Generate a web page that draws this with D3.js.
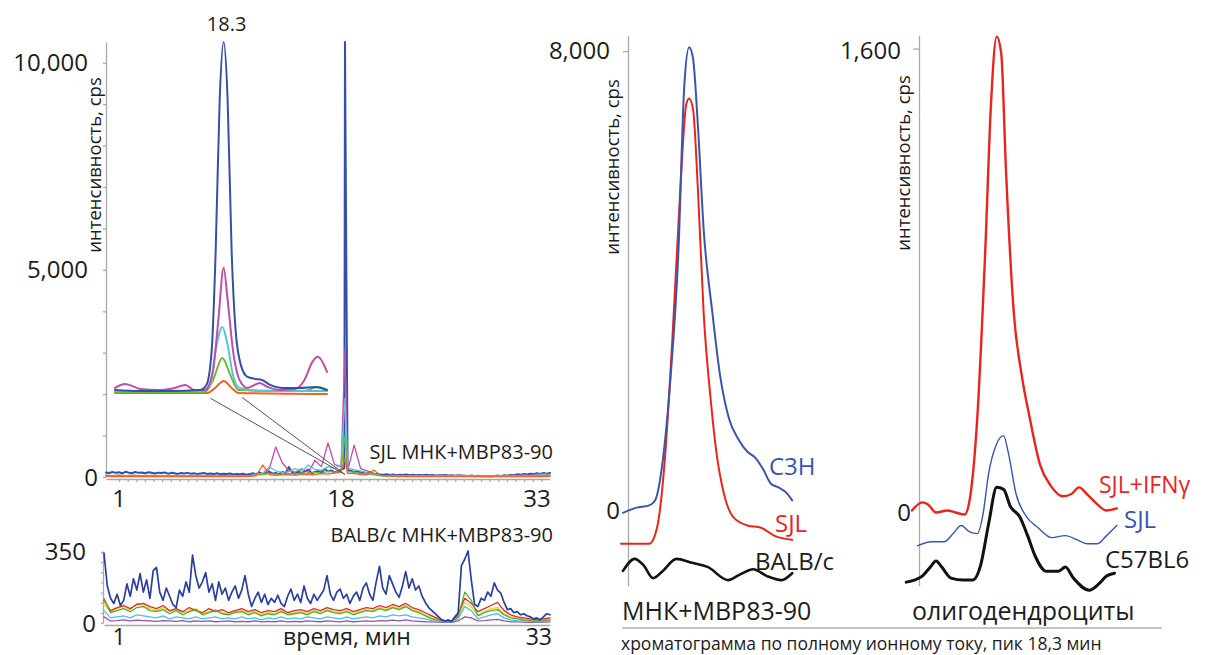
<!DOCTYPE html>
<html lang="ru">
<head>
<meta charset="UTF-8">
<title>Хроматограммы МНК+MBP83-90</title>
<style>
    body { margin: 0; background: #fff; }
    svg { display: block; font-family: "Open Sans", "Noto Sans", sans-serif; }
    .axis path, .axis line { stroke: #a9a9a9; stroke-width: 1.3; }
    .trace { fill: none; stroke-linejoin: round; stroke-linecap: round; }
</style>
</head>
<body>
<svg id="chart" width="1206" height="655"></svg>
<script src="https://d3js.org/d3.v7.min.js"></script>
<script>
// ---------- data ----------
// SJL МНК+MBP83-90, full run 0..34 min
const topYTicks = [0, 5000, 10000];
const topXTicks = [1, 18, 33];
const spikeTime = 18.3;
const spikeTops = [10500, 3070, 1900, 1000, 450]; // blue, magenta, cyan, green, orange

// blue, one value every 0.25 min
const topBlue = [
    110, 95, 120, 100, 115, 90, 125, 105, 95, 120, 100, 110, 90, 115, 100, 85,
    105, 95, 110, 80, 100, 90, 75, 95, 85, 100, 80, 90, 70, 85, 95, 75,
    85, 70, 90, 65, 80, 70, 85, 60, 75, 65, 80, 55, 70, 90, 60, 110,
    70, 95, 130, 80, 100, 70, 120, 90, 240, 110, 80, 130, 95, 140, 180, 90,
    120, 150, 100, 200, 130, 160, 110, 140, 180, 210, 170, 150, 120, 140, 100, 110,
    90, 120, 80, 70, 60, 55, 65, 50, 60, 45, 55, 50, 60, 45, 55, 40,
    50, 45, 55, 40, 50, 35, 45, 40, 50, 35, 45, 30, 40, 35, 30, 25,
    35, 20, 30, 15, 25, 20, 15, 25, 35, 20, 40, 30, 50, 40, 65, 55,
    75, 60, 80, 70, 90, 75, 95, 80, 100
];
// the other traces, one value every 0.5 min
const topMagenta = [
    40, 30, 45, 35, 40, 30, 35, 40, 30, 35, 25, 30, 35, 25, 30, 20,
    30, 25, 20, 30, 25, 40, 30, 90, 60, 200, 725, 340, 150, 120, 200, 110,
    400, 250, 820, 300, 250, 150, 770, 200, 150, 80, 40, 30, 35, 25, 30, 20,
    30, 25, 20, 30, 25, 20, 25, 30, 20, 25, 15, 20, 30, 25, 40, 35,
    50, 45, 70, 85, 60
];
const topCyan = [
    45, 35, 40, 30, 45, 35, 40, 30, 40, 35, 30, 40, 35, 30, 40, 30,
    35, 30, 35, 25, 30, 35, 40, 60, 90, 240, 150, 110, 130, 200, 140, 290,
    180, 160, 250, 200, 300, 220, 180, 150, 100, 70, 40, 35, 40, 30, 35, 30,
    35, 25, 30, 35, 30, 25, 30, 25, 30, 20, 25, 20, 30, 25, 35, 30,
    40, 35, 50, 45, 50
];
const topGreen = [
    30, 25, 30, 20, 25, 30, 20, 25, 20, 25, 30, 20, 25, 20, 25, 20,
    25, 20, 25, 20, 20, 25, 30, 45, 60, 80, 70, 55, 90, 70, 100, 80,
    120, 90, 140, 110, 150, 130, 120, 90, 70, 50, 30, 25, 30, 20, 25, 20,
    25, 20, 25, 20, 20, 25, 20, 15, 20, 15, 20, 15, 20, 15, 25, 20,
    25, 20, 30, 25, 30
];
const topOrange = [
    15, 10, 15, 10, 15, 10, 15, 10, 12, 10, 15, 10, 12, 8, 10, 12,
    10, 8, 12, 10, 10, 12, 15, 30, 290, 60, 40, 50, 60, 40, 70, 50,
    60, 80, 70, 100, 120, 90, 80, 60, 50, 170, 40, 20, 15, 10, 12, 10,
    12, 10, 12, 8, 10, 8, 10, 8, 10, 8, 10, 8, 10, 8, 12, 10,
    12, 10, 15, 12, 15
];

// zoomed peak inset, [time, cps]
const insetBlue = [[17.48, 2100], [17.67, 2077], [17.9, 2077], [18.12, 2100], [18.17, 2222],
    [18.21, 3070], [18.24, 5480], [18.27, 9100], [18.3, 10500], [18.33, 9100], [18.36, 5480],
    [18.39, 3550], [18.43, 2700], [18.48, 2415], [18.54, 2367], [18.59, 2343], [18.65, 2222],
    [18.74, 2150], [18.88, 2150], [18.99, 2174], [19.08, 2100]];
const insetMagenta = [[17.48, 2150], [17.555, 2246], [17.67, 2126], [17.82, 2100], [17.93, 2150],
    [18.01, 2222], [18.08, 2100], [18.16, 2100], [18.22, 2585], [18.26, 3790], [18.3, 5050],
    [18.33, 4275], [18.37, 3070], [18.42, 2343], [18.48, 2150], [18.52, 2198], [18.57, 2270],
    [18.63, 2174], [18.72, 2100], [18.84, 2126], [18.91, 2343], [18.97, 2778], [19.01, 2900],
    [19.05, 2754], [19.08, 2536]];
const insetCyan = [[17.48, 2077], [18.12, 2077], [18.2, 2222], [18.24, 3070], [18.29, 3620],
    [18.33, 3190], [18.37, 2464], [18.42, 2150], [18.57, 2077], [19.08, 2077]];
const insetGreen = [[17.48, 2053], [18.16, 2053], [18.22, 2343], [18.29, 2874], [18.35, 2464],
    [18.41, 2100], [18.91, 2077], [19.01, 2174], [19.08, 2100]];
const insetOrange = [[17.48, 2029], [18.18, 2029], [18.235, 2150], [18.3, 2319], [18.36, 2150],
    [18.41, 2029], [19.08, 2005]];
const insetLinks = [[18.2, 1900], [18.44, 1920]];

// BALB/c МНК+MBP83-90, 0..34 min
const bottomYTicks = [0, 350];
const bottomXTicks = [1, 33];
const bottomBlue = [
    340, 180, 120, 95, 140, 85, 110, 190, 130, 215, 160, 240, 150, 210, 120, 255,
    270, 150, 110, 170, 130, 90, 75, 160, 130, 200, 150, 330, 230, 170, 200, 245,
    150, 190, 110, 200, 140, 170, 110, 150, 180, 120, 160, 230, 140, 80, 120, 150,
    100, 140, 90, 120, 100, 135, 95, 80, 130, 165, 110, 140, 100, 180, 120, 95,
    140, 110, 135, 160, 230, 140, 110, 150, 165, 120, 140, 95, 130, 150, 110, 170,
    195, 140, 110, 200, 275, 170, 140, 230, 190, 150, 125, 180, 250, 170, 215, 160,
    180, 130, 100, 75, 60, 45, 30, 15, 10, 15, 8, 30, 50, 280, 310, 350,
    210, 90, 80, 120, 110, 150, 130, 195, 160, 145, 100, 65, 70, 50, 55, 40,
    45, 35, 30, 20, 25, 15, 30, 45, 40
];
const bottomRed = [
    110, 60, 75, 85, 70, 90, 95, 80, 70, 85, 60, 70, 55, 75, 60, 50,
    70, 55, 65, 50, 60, 70, 55, 65, 50, 60, 55, 70, 50, 60, 65, 55,
    70, 60, 75, 65, 60, 70, 55, 65, 75, 70, 85, 75, 90, 80, 95, 75,
    65, 50, 35, 20, 12, 10, 40, 120, 95, 55, 70, 85, 100, 60, 40, 30,
    25, 20, 15, 20, 25
];
const bottomYellow = [
    90, 55, 70, 80, 65, 95, 85, 70, 60, 75, 55, 65, 50, 60, 70, 45,
    55, 65, 50, 45, 55, 60, 45, 55, 40, 50, 45, 60, 45, 50, 55, 45,
    60, 50, 65, 55, 50, 60, 45, 55, 65, 60, 75, 65, 80, 70, 85, 65,
    55, 40, 25, 15, 10, 8, 30, 100, 80, 40, 55, 70, 75, 45, 30, 25,
    20, 15, 12, 15, 20
];
const bottomGreen = [
    120, 50, 60, 70, 55, 75, 80, 60, 55, 65, 45, 60, 40, 55, 65, 40,
    50, 60, 45, 40, 50, 55, 40, 50, 35, 45, 40, 55, 40, 45, 50, 40,
    55, 45, 60, 50, 45, 55, 40, 50, 60, 55, 70, 60, 75, 65, 80, 60,
    50, 35, 20, 12, 8, 6, 30, 150, 110, 35, 50, 60, 65, 40, 25, 20,
    15, 12, 10, 12, 15
];
const bottomCyan = [
    60, 25, 30, 35, 25, 40, 35, 30, 25, 35, 20, 30, 25, 20, 30, 20,
    25, 30, 20, 25, 20, 30, 20, 25, 15, 25, 20, 30, 20, 25, 20, 30,
    25, 20, 30, 25, 20, 30, 20, 25, 30, 25, 35, 30, 40, 35, 40, 30,
    25, 20, 12, 8, 5, 5, 20, 80, 60, 20, 30, 40, 45, 25, 15, 12,
    10, 8, 6, 8, 10
];
const bottomPurple = [
    30, 10, 12, 15, 10, 14, 12, 10, 8, 12, 10, 8, 12, 6, 10, 8,
    10, 6, 8, 10, 6, 8, 6, 10, 5, 8, 6, 10, 5, 8, 6, 10,
    8, 6, 10, 8, 5, 10, 6, 8, 10, 8, 12, 10, 14, 10, 15, 10,
    8, 6, 5, 4, 3, 3, 10, 30, 25, 10, 12, 15, 18, 10, 6, 5,
    4, 3, 3, 4, 5
];

// TIC peak 18.3 min, МНК+MBP83-90, [time, cps]
const mncYTicks = [0, 8000];
const mncC3H = [[17.6, -40], [17.74, 50], [17.87, 90], [17.93, 175], [18.01, 880], [18.09, 2330],
    [18.17, 4500], [18.23, 7370], [18.28, 8050], [18.32, 7860], [18.37, 6700], [18.43, 4880],
    [18.52, 3430], [18.6, 2330], [18.69, 1600], [18.79, 1230], [18.88, 1020], [18.96, 920],
    [19.04, 720], [19.12, 470], [19.2, 400], [19.28, 310], [19.34, 175]];
const mncSJL = [[17.58, -580], [17.87, -580], [17.95, -300], [18.03, 880], [18.11, 3050],
    [18.19, 5600], [18.25, 7050], [18.28, 7160], [18.32, 6980], [18.37, 5600], [18.43, 3420],
    [18.5, 1960], [18.56, 1020], [18.64, 280], [18.73, -105], [18.88, -260], [19.02, -300],
    [19.16, -440], [19.34, -510]];
const mncBALB = [[17.6, -1050], [17.72, -840], [17.81, -950], [17.91, -1175], [18.01, -1050],
    [18.15, -840], [18.31, -910], [18.47, -980], [18.68, -1210], [18.81, -1105], [18.94, -1020],
    [19.08, -1140], [19.23, -1210], [19.34, -1090]];

// TIC peak 18.3 min, олигодендроциты
const oligoYTicks = [0, 1600];
const oligoIFN = [[17.6, 7], [17.69, 35], [17.74, 28], [17.81, 0], [17.91, 7], [17.98, 0],
    [18.06, -7], [18.1, 35], [18.17, 325], [18.24, 905], [18.29, 1412], [18.34, 1647],
    [18.38, 1587], [18.42, 1196], [18.49, 689], [18.56, 472], [18.63, 325], [18.72, 164],
    [18.81, 94], [18.92, 56], [18.99, 63], [19.06, 87], [19.13, 63], [19.22, 28], [19.3, 7],
    [19.39, 14]];
const oligoSJL = [[17.65, -115], [17.77, -101], [17.88, -101], [17.96, -73], [18.03, -45],
    [18.1, -66], [18.17, -73], [18.22, -7], [18.27, 136], [18.34, 238], [18.4, 266], [18.44, 210],
    [18.51, 63], [18.6, -14], [18.7, -52], [18.82, -87], [18.94, -80], [19.04, -94], [19.13, -108],
    [19.22, -108], [19.3, -80], [19.39, -45]];
const oligoC57 = [[17.55, -241], [17.62, -234], [17.69, -220], [17.76, -189], [17.81, -168],
    [17.86, -189], [17.94, -227], [18.05, -234], [18.13, -234], [18.2, -182], [18.27, -38],
    [18.34, 87], [18.4, 80], [18.46, 21], [18.54, -14], [18.61, -80], [18.68, -154], [18.77, -203],
    [18.88, -203], [18.94, -189], [19.01, -227], [19.15, -269], [19.23, -248], [19.3, -220],
    [19.37, -210]];

// ---------- drawing ----------
const ink = "#1c1c1c";
const svg = d3.select("#chart");
svg.append("rect").attr("width", 1206).attr("height", 655).attr("fill", "#fff");

const fmt = d3.format(",");
const onGrid = (values, step) => values.map((v, i) => [i * step, v]);
const withSpike = (pts, top) => pts.concat([[spikeTime, top]]).sort((a, b) => a[0] - b[0]);

function trace(x, y, pts, color, width, curve) {
    svg.append("path")
        .attr("class", "trace")
        .attr("d", d3.line().x(d => x(d[0])).y(d => y(d[1])).curve(curve || d3.curveLinear)(pts))
        .attr("stroke", color)
        .attr("stroke-width", width);
}

function yTickLabels(values, x, y, size) {
    svg.append("g").selectAll("text").data(values).join("text")
        .attr("x", d => x - (d === 0 ? 8 : 18))
        .attr("y", d => y(d))
        .attr("dy", "0.36em")
        .attr("text-anchor", "end")
        .attr("font-size", size)
        .attr("fill", ink)
        .text(d => fmt(d));
}

function yTitle(x, y) {
    svg.append("text")
        .attr("transform", `translate(${x},${y}) rotate(-90)`)
        .attr("text-anchor", "middle")
        .attr("font-size", 18.5)
        .attr("fill", ink)
        .text("интенсивность, cps");
}

function label(x, y, text, size, color, anchor) {
    svg.append("text")
        .attr("x", x).attr("y", y).attr("dy", "0.36em")
        .attr("text-anchor", anchor || "start")
        .attr("font-size", size)
        .attr("fill", color || ink)
        .text(text);
}

// ---- panel 1: SJL full chromatogram ----
const xTop = d3.scaleLinear().domain([0, 34]).range([106, 550]);
const yTop = d3.scaleLinear().domain([0, 10500]).range([477, 42]);
const xInset = d3.scaleLinear().domain([17.48, 19.08]).range([115, 327]);

svg.append("g").attr("class", "axis")
    .attr("transform", `translate(${xTop(0)},0)`)
    .call(d3.axisLeft(yTop).tickValues(d3.range(0, 10001, 1000)).tickSize(3).tickSizeOuter(0).tickFormat(""));
svg.append("g").attr("class", "axis")
    .attr("transform", `translate(0,${yTop(0) + 2})`)
    .call(d3.axisBottom(xTop).tickValues(d3.range(1, 34, 0.66)).tickSize(3).tickSizeOuter(0).tickFormat(""));

const topColors = ["#3550a8", "#c24da9", "#55c6d0", "#6db833", "#f26222"];
const topSeries = [
    onGrid(topBlue, 0.25),
    onGrid(topMagenta, 0.5),
    onGrid(topCyan, 0.5),
    onGrid(topGreen, 0.5),
    onGrid(topOrange, 0.5)
];
topSeries.forEach((s, i) => trace(xTop, yTop, withSpike(s, spikeTops[i]), topColors[i], i === 0 ? 2 : 1.3));

// links from the inset down to the peak
insetLinks.forEach(p => {
    svg.append("line")
        .attr("x1", xInset(p[0])).attr("y1", yTop(p[1]))
        .attr("x2", xTop(spikeTime)).attr("y2", yTop(60))
        .attr("stroke", "#555").attr("stroke-width", 1);
});

const insetSeries = [insetOrange, insetGreen, insetCyan, insetMagenta, insetBlue];
const insetColors = ["#f26222", "#6db833", "#55c6d0", "#c24da9", "#3550a8"];
insetSeries.forEach((s, i) => trace(xInset, yTop, s, insetColors[i], 2, d3.curveMonotoneX));

yTickLabels(topYTicks, xTop(0), yTop, 24);
svg.append("g").selectAll("text").data(topXTicks).join("text")
    .attr("x", d => xTop(d)).attr("y", 498).attr("dy", "0.36em")
    .attr("text-anchor", "middle").attr("font-size", 24).attr("fill", ink)
    .text(d => d);
label(xInset(spikeTime) + 3, 24, "18.3", 20, ink, "middle");
yTitle(101, 165);
label(553, 452, "SJL МНК+MBP83-90", 20, ink, "end");

// ---- panel 2: BALB/c full chromatogram ----
const xBot = d3.scaleLinear().domain([0, 34]).range([104, 550]);
const yBot = d3.scaleLinear().domain([0, 350]).range([623, 551]);
svg.append("g").attr("class", "axis")
    .attr("transform", `translate(${xBot(0) - 1},0)`)
    .call(d3.axisLeft(yBot.copy().domain([0, 355])).tickValues(d3.range(0, 351, 50)).tickSize(2).tickSizeOuter(0).tickFormat(""));
svg.append("g").attr("class", "axis")
    .attr("transform", `translate(0,${yBot(0) + 2})`)
    .call(d3.axisBottom(xBot).tickValues([]).tickSizeOuter(0));

const botSeries = [
    [onGrid(bottomPurple, 0.5), "#9b4fb2"],
    [onGrid(bottomCyan, 0.5), "#4dbfe6"],
    [onGrid(bottomYellow, 0.5), "#f0d21a"],
    [onGrid(bottomRed, 0.5), "#e8262b"],
    [onGrid(bottomGreen, 0.5), "#4fae38"],
    [onGrid(bottomBlue, 0.25), "#2c3f9d"]
];
botSeries.forEach((s, i) => trace(xBot, yBot, s[0], s[1], i === 5 ? 1.7 : 1.3));

yTickLabels(bottomYTicks, xBot(0), yBot, 24);
svg.append("g").selectAll("text").data(bottomXTicks).join("text")
    .attr("x", d => xBot(d) + 2).attr("y", 637).attr("dy", "0.36em")
    .attr("text-anchor", "middle").attr("font-size", 23).attr("fill", ink)
    .text(d => d);
label(347, 637, "время, мин", 23, ink, "middle");
label(553, 535, "BALB/c МНК+MBP83-90", 20, ink, "end");

// ---- panel 3: МНК+MBP83-90, peak 18.3 ----
const xMnc = d3.scaleLinear().domain([17.6, 19.4]).range([623, 798]);
const yMnc = d3.scaleLinear().domain([0, 8000]).range([510.5, 50.2]);
svg.append("g").attr("class", "axis")
    .attr("transform", `translate(628,0)`)
    .call(d3.axisLeft(yMnc.copy().domain([-1310, 8270]).range([585.8, 35.6]))
        .tickValues([8000]).tickSize(5).tickSizeOuter(0).tickFormat(""));

trace(xMnc, yMnc, mncBALB, "#111", 2.6, d3.curveMonotoneX);
trace(xMnc, yMnc, mncSJL, "#e8251d", 2, d3.curveMonotoneX);
trace(xMnc, yMnc, mncC3H, "#3a54b0", 2, d3.curveMonotoneX);

yTickLabels(mncYTicks, 628, yMnc, 24);
yTitle(619, 167);
label(769, 466, "C3H", 24, "#3a54b0");
label(775, 523, "SJL", 24, "#e8251d");
label(755, 561, "BALB/c", 24, ink);
label(622, 611, "МНК+MBP83-90", 25, ink);

// ---- panel 4: олигодендроциты, peak 18.3 ----
const xOli = d3.scaleLinear().domain([17.6, 19.4]).range([912, 1118]);
const yOli = d3.scaleLinear().domain([0, 1600]).range([512.5, 50.2]);
svg.append("g").attr("class", "axis")
    .attr("transform", `translate(919,0)`)
    .call(d3.axisLeft(yOli.copy().domain([-255, 1645]).range([585.8, 35.6]))
        .tickValues([1600]).tickSize(6).tickSizeOuter(0).tickFormat(""));

trace(xOli, yOli, oligoC57, "#111", 3, d3.curveMonotoneX);
trace(xOli, yOli, oligoSJL, "#3a54b0", 1.4, d3.curveMonotoneX);
trace(xOli, yOli, oligoIFN, "#e8251d", 2.4, d3.curveMonotoneX);

yTickLabels(oligoYTicks, 919, yOli, 24);
yTitle(910, 163);
label(1099, 485, "SJL+IFNγ", 23, "#e8251d");
label(1124, 519, "SJL", 24, "#3a54b0");
label(1105, 559, "C57BL6", 24, ink);
label(912, 611, "олигодендроциты", 25, ink);

// caption under the two peak panels
svg.append("line")
    .attr("x1", 622).attr("x2", 1162).attr("y1", 628).attr("y2", 628)
    .attr("stroke", "#b0b0b0").attr("stroke-width", 1.5);
label(621, 644, "хроматограмма по полному ионному току, пик 18,3 мин", 17.5, ink);
</script>
</body>
</html>
